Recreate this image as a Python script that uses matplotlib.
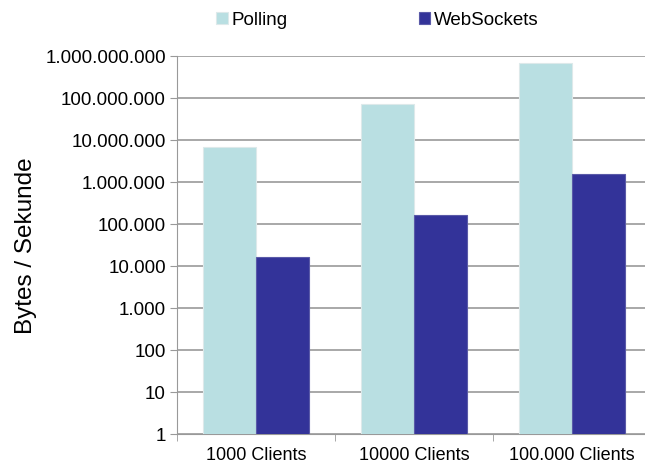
import matplotlib.pyplot as plt
from matplotlib.ticker import FixedLocator, FuncFormatter
import numpy as np

plt.rcParams['font.family'] = ['Liberation Sans', 'DejaVu Sans']

# Daten
kategorien = ['1000 Clients', '10000 Clients', '100.000 Clients']
polling = [6.8e6, 7.1e7, 6.7e8]
websockets = [1.58e4, 1.6e5, 1.57e6]

farbe_polling = '#B9DFE2'
farbe_ws = '#333399'

def tausender(v, pos):
    return '{:,}'.format(int(round(v))).replace(',', '.')

fig = plt.figure(figsize=(6.45, 4.64), dpi=100)
ax = fig.add_axes([0.2744, 0.0625, 0.735, 0.8155])

x = np.arange(len(kategorien))
breite = 0.333
ax.bar(x - breite / 2, polling, breite, color=farbe_polling, edgecolor='#dde9ea',
       linewidth=0.8, label='Polling', zorder=3)
ax.bar(x + breite / 2, websockets, breite, color=farbe_ws, edgecolor='#5a5aa8',
       linewidth=0.8, label='WebSockets', zorder=3)

ax.set_yscale('log')
ax.set_ylim(1, 1e9)
ax.set_xlim(-0.5, 2.5)
ax.yaxis.set_major_locator(FixedLocator([10 ** i for i in range(10)]))
ax.yaxis.set_minor_locator(FixedLocator([]))
ax.yaxis.set_major_formatter(FuncFormatter(tausender))
ax.grid(axis='y', color='#9a9a9a', linewidth=1.2, zorder=0)

# Kategorien-Beschriftung mittig, Striche an den Grenzen
ax.set_xticks(x)
ax.set_xticklabels(kategorien)
ax.tick_params(axis='x', length=0, pad=9, labelsize=13)
ax.set_xticks([-0.5, 0.5, 1.5, 2.5], minor=True)
ax.tick_params(axis='x', which='minor', length=5, color='#999999', direction='out')
ax.tick_params(axis='y', length=5, color='#999999', labelsize=13.5, pad=3)

for s in ['top', 'right']:
    ax.spines[s].set_visible(False)
for s in ['left', 'bottom']:
    ax.spines[s].set_color('#999999')

ax.set_ylabel('Bytes / Sekunde', fontsize=17.5, labelpad=6)

fig.legend(loc='center', bbox_to_anchor=(0.585, 0.955), ncol=2, frameon=False,
           fontsize=13.5, handlelength=0.6, handleheight=0.6, handletextpad=0.2,
           columnspacing=7.0)

fig.savefig('out.png', dpi=100)
